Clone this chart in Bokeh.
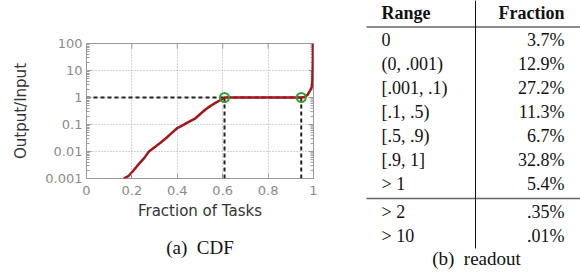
import math
from bokeh.plotting import figure
from bokeh.models import (LogAxis, LinearAxis, FixedTicker, Range1d, ColumnDataSource)
from bokeh.layouts import row, column
from bokeh.core.properties import value
from bokeh.embed import file_html
from bokeh.resources import INLINE

# ---------------- data ----------------
cdf_x = [0.164, 0.186, 0.205, 0.23, 0.255, 0.275, 0.30, 0.326, 0.35, 0.37, 0.40,
         0.425, 0.444, 0.48, 0.50, 0.524, 0.545, 0.568, 0.585, 0.600, 0.608,
         0.946, 0.962, 0.975, 0.985, 0.992, 0.995, 0.997, 0.998]
cdf_y = [0.001, 0.00126, 0.0019, 0.0034, 0.0058, 0.01, 0.0145, 0.021, 0.031, 0.044, 0.074,
         0.095, 0.117, 0.17, 0.24, 0.36, 0.48, 0.63, 0.76, 0.88, 1.0,
         1.0, 1.05, 1.3, 1.8, 2.4, 4.0, 20.0, 100.0]
mark_x = [0.608, 0.946]
mark_y = [1.0, 1.0]

x_ticks = [0, 0.2, 0.4, 0.6, 0.8, 1.0]
x_labels = ["0", "0.2", "0.4", "0.6", "0.8", "1"]
y_ticks = [0.001, 0.01, 0.1, 1, 10, 100]
y_labels = ["0.001", "0.01", "0.1", "1", "10", "100"]

ranges = ["0", "(0, .001)", "[.001, .1)", "[.1, .5)", "[.5, .9)", "[.9, 1]", "> 1", "> 2", "> 10"]
fractions = ["3.7%", "12.9%", "27.2%", "11.3%", "6.7%", "32.8%", "5.4%", ".35%", ".01%"]

# ---------------- styles ----------------
SANS = "DejaVu Sans"
SERIF = "Liberation Serif"
TICK_COLOR = "#8a8a8a"
TITLE_COLOR = "#333333"
FRAME = "#9a9a9a"
RED = "#a3161c"
GREEN = "#2ca02c"

# ---------------- CDF figure ----------------
W1, H1 = 340, 274
p = figure(width=W1, height=H1, y_axis_type="log",
           x_range=Range1d(0, 1), y_range=Range1d(0.001, 100),
           output_backend="svg", toolbar_location=None,
           min_border_left=86, min_border_right=27, min_border_top=43, min_border_bottom=96,
           x_axis_location=None, y_axis_location=None)
p.outline_line_color = FRAME
p.outline_line_width = 1

minor_y = [m * 10.0 ** e for e in range(-3, 2) for m in range(2, 10)]

xa = LinearAxis(ticker=FixedTicker(ticks=x_ticks, minor_ticks=[]),
                major_label_overrides={t: l for t, l in zip(x_ticks, x_labels)},
                axis_label="Fraction of Tasks")
ya = LogAxis(ticker=FixedTicker(ticks=y_ticks, minor_ticks=minor_y),
             major_label_overrides={t: l for t, l in zip(y_ticks, y_labels)},
             axis_label="Output/Input")
for ax in (xa, ya):
    ax.axis_line_color = None
    ax.major_tick_in = 5
    ax.major_tick_out = 0
    ax.minor_tick_in = 3
    ax.minor_tick_out = 0
    ax.major_tick_line_color = FRAME
    ax.minor_tick_line_color = FRAME
    ax.major_label_text_font = SANS
    ax.major_label_text_font_size = "13px"
    ax.major_label_text_color = TICK_COLOR
    ax.axis_label_text_font = SANS
    ax.axis_label_text_font_size = "15px"
    ax.axis_label_text_font_style = "normal"
    ax.axis_label_text_color = TITLE_COLOR
xa.major_label_standoff = 7
xa.axis_label_standoff = 4
ya.major_label_standoff = 4
ya.axis_label_standoff = 12
p.add_layout(xa, "below")
p.add_layout(ya, "left")

# caption (a)
cap = LinearAxis(ticker=FixedTicker(ticks=[0.5]), axis_label="(a)\u00a0 CDF",
                 major_label_overrides={0.5: " "})
cap.axis_line_color = None
cap.major_tick_line_color = None
cap.minor_tick_line_color = None
cap.major_label_text_font_size = "4px"
cap.major_label_standoff = 0
cap.axis_label_text_font = SERIF
cap.axis_label_text_font_size = "19px"
cap.axis_label_text_font_style = "normal"
cap.axis_label_text_color = "#111111"
cap.axis_label_standoff = 0
p.add_layout(cap, "below")

# grid
p.xgrid.ticker = FixedTicker(ticks=x_ticks)
p.ygrid.ticker = FixedTicker(ticks=y_ticks)
for g in (p.xgrid, p.ygrid):
    g.grid_line_color = "#a8a8a8"
    g.grid_line_dash = "1 2"
    g.grid_line_width = 1

# mirrored ticks on right / top edges (half of each dash is clipped by the frame)
p.scatter(x=[x_ticks[-1]] * len(y_ticks), y=y_ticks, marker="dash", size=10,
          line_color=FRAME, line_width=1)
p.scatter(x=[x_ticks[-1]] * len(minor_y), y=minor_y, marker="dash", size=6,
          line_color=FRAME, line_width=1)
p.scatter(x=x_ticks, y=[y_ticks[-1]] * len(x_ticks), marker="dash", size=10,
          angle=math.pi / 2, line_color=FRAME, line_width=1)

# dashed guide lines
p.segment(x0=[x_ticks[0]], y0=[mark_y[1]], x1=[mark_x[1]], y1=[mark_y[1]],
          line_color="#222222", line_width=2, line_dash="4 3")
p.segment(x0=mark_x, y0=[y_ticks[0]] * len(mark_x), x1=mark_x, y1=mark_y,
          line_color="#222222", line_width=2, line_dash="4 3")

p.line(cdf_x, cdf_y, line_color=RED, line_width=2.5)
p.scatter(mark_x, mark_y, marker="circle", size=9, fill_color=None,
          line_color=GREEN, line_width=2)

# ---------------- table figure ----------------
W2, H2 = 240, 274
t = figure(width=W2, height=H2, x_range=Range1d(0, W2), y_range=Range1d(H2, 0),
           output_backend="svg", toolbar_location=None,
           min_border_left=0, min_border_right=0, min_border_top=0, min_border_bottom=0,
           x_axis_location=None, y_axis_location=None)
t.grid.visible = False
t.outline_line_color = None

COL_RANGE = 41
COL_FRAC = 224
COL_RULE = 135
HEAD_Y = 12
ROW0 = 39
STEP = 24
MID_GAP = 4

n_top = 7
row_y = [ROW0 + i * STEP for i in range(n_top)] + \
        [ROW0 + i * STEP + MID_GAP for i in range(n_top, len(ranges))]
top_rule = (HEAD_Y + ROW0) / 2 + 1
mid_rule = (row_y[n_top - 1] + row_y[n_top]) / 2 + 1

head_font = dict(text_font=value(SERIF), text_font_size="18px", text_font_style="bold",
                 text_color="#111111", text_baseline="middle")
t.text(x=[COL_RANGE], y=[HEAD_Y], text=["Range"], text_align="left", **head_font)
t.text(x=[COL_FRAC], y=[HEAD_Y], text=["Fraction"], text_align="right", **head_font)

src = ColumnDataSource(dict(y=row_y, r=ranges, f=fractions))
body_font = dict(text_font=value(SERIF), text_font_size="18px",
                 text_color="#111111", text_baseline="middle")
t.text(x=COL_RANGE, y="y", text="r", source=src, text_align="left", **body_font)
t.text(x=COL_FRAC, y="y", text="f", source=src, text_align="right", **body_font)

t.segment(x0=[26, 26], y0=[top_rule, mid_rule], x1=[W2, W2], y1=[top_rule, mid_rule],
          line_color="#666666", line_width=1.5)
t.segment(x0=[COL_RULE], y0=[0], x1=[COL_RULE], y1=[row_y[-1] + 13],
          line_color="#111111", line_width=1)

t.text(x=[COL_RULE + 1], y=[row_y[-1] + 23], text=["(b)\u00a0 readout"],
       text_font=value(SERIF), text_font_size="19px", text_color="#111111",
       text_align="center", text_baseline="middle")

layout = row(p, column(t))
open("out.html", "w").write(file_html(layout, INLINE))
